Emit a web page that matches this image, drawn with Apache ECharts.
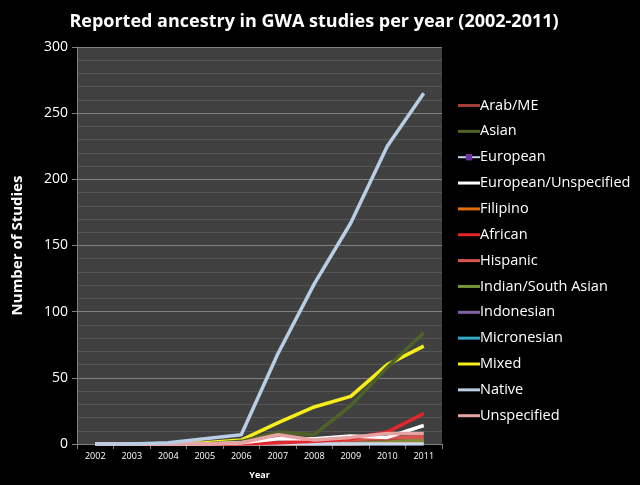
<!DOCTYPE html>
<html><head><meta charset="utf-8">
<script src="https://cdn.jsdelivr.net/npm/echarts@6/dist/echarts.min.js"></script>
<style>html,body{margin:0;padding:0;background:#000}#c{width:640px;height:485px}</style>
</head><body><div id="c"></div>
<script>
const years = ['2002','2003','2004','2005','2006','2007','2008','2009','2010','2011'];
const yTicks = [0,50,100,150,200,250,300];
const arabME       = [0,0,0,0,0,1,2,3,4,6];
const asian        = [0,0,0,0,2,9,7,29,58,84];
const european     = [0,0,0,0,0,0,0,0,0,0];
const euroUnspec   = [0,0,0,0,1,4,4,6,5,14];
const filipino     = [0,0,0,0,0,0,0,0,1,1];
const african      = [0,0,0,0,0,1,2,4,9,23];
const hispanic     = [0,0,0,0,0,1,2,3,5,5];
const indianSA     = [0,0,0,0,0,1,1,2,3,3];
const indonesian   = [0,0,0,0,0,0,0,0,1,1];
const micronesian  = [0,0,0,0,0,2,0,1,1,2];
const mixed        = [0,0,0,1,3,16,28,36,60,74];
const native       = [0,0,1,4,7,68,121,167,225,265];
const unspecified  = [0,0,0,0,1,7,3,5,8,8];

const defs = [
  ['Arab/ME', arabME, '#a33c3a'],
  ['Asian', asian, '#4f6228'],
  ['European', european, '#c6d9f1'],
  ['European/Unspecified', euroUnspec, '#ffffff'],
  ['Filipino', filipino, '#e46c0a'],
  ['African', african, '#e3262c'],
  ['Hispanic', hispanic, '#d9534f'],
  ['Indian/South Asian', indianSA, '#77933c'],
  ['Indonesian', indonesian, '#8064a2'],
  ['Micronesian', micronesian, '#31a9c4'],
  ['Mixed', mixed, '#f5ee1a'],
  ['Native', native, '#b9cde5'],
  ['Unspecified', unspecified, '#e6a3a3']
];
const order = [8,9,4,7,0,6,2,10,1,5,3,12,11];
const series = defs.map((d,i)=>({
  name:d[0], type:'line', data:d[1], z: 2+order.indexOf(i),
  symbol: d[0]==='European' ? 'rect' : 'none',
  symbolSize: 6, showSymbol: false,
  itemStyle:{color: d[0]==='European' ? '#7030a0' : d[2]},
  lineStyle:{color:d[2], width:3.5},
  emphasis:{disabled:true}
}));
const legendData = defs.map(d => d[0]==='European'
  ? {name:d[0]}
  : {name:d[0], icon:'path://M0,0H22V3H0Z', itemStyle:{color:d[2]}});
const chart = echarts.init(document.getElementById('c'));
chart.setOption({
  backgroundColor:'#000',
  animation:false,
  title:{text:'Reported ancestry in GWA studies per year (2002-2011)', left:309, textAlign:'center', top:8,
    textStyle:{color:'#fff', fontFamily:'Open Sans', fontWeight:'bold', fontSize:18}},
  grid:{left:77, right:198, top:47, bottom:41, show:true, backgroundColor:'#404040', borderWidth:0},
  legend:{orient:'vertical', left:452, top:93, itemGap:10.85, itemWidth:22, itemHeight:8,
    textStyle:{color:'#fff', fontFamily:'Open Sans', fontSize:14.5, padding:[0,0,0,-5]},
    data: legendData},
  xAxis:{type:'category', data:years, boundaryGap:true,
    name:'Year', nameLocation:'middle', nameGap:27,
    nameTextStyle:{color:'#fff', fontFamily:'Open Sans', fontWeight:'bold', fontSize:9},
    axisLine:{lineStyle:{color:'#808080'}}, axisTick:{show:true, lineStyle:{color:'#808080'}},
    axisLabel:{color:'#fff', fontFamily:'Open Sans', fontSize:9, margin:8}},
  yAxis:{type:'value', min:0, max:300, interval:50,
    name:'Number of Studies', nameLocation:'middle', nameGap:52,
    nameTextStyle:{color:'#fff', fontFamily:'Open Sans', fontWeight:'bold', fontSize:15},
    axisLine:{show:true, lineStyle:{color:'#808080'}}, axisTick:{show:true, length:5, lineStyle:{color:'#808080'}},
    axisLabel:{color:'#fff', fontFamily:'Open Sans', fontSize:14, margin:9,
      formatter: v => yTicks.includes(v) ? String(v) : ''},
    splitLine:{lineStyle:{color:'#808080', width:1}},
    minorTick:{show:false, splitNumber:5},
    minorSplitLine:{show:true, lineStyle:{color:'#555555', width:1}}},
  series: series
});
</script></body></html>
